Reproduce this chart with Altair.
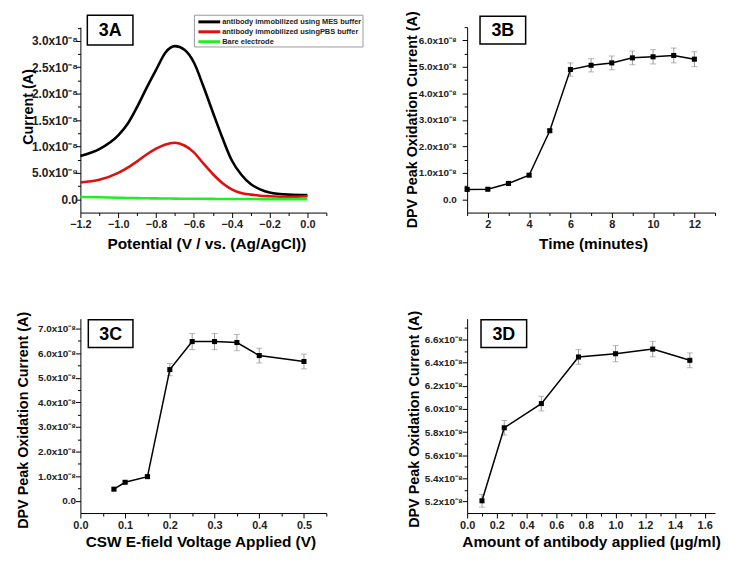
import altair as alt
import pandas as pd

FONT = "Liberation Sans"

# ---------------- Panel 3A (current in units of 1e-8 A) ----------------
potential = [-1.2, -1.1, -1.0, -0.95, -0.9, -0.85, -0.8, -0.75, -0.7, -0.65, -0.6,
             -0.55, -0.5, -0.45, -0.4, -0.35, -0.3, -0.25, -0.2, -0.1, 0.0]
mes_current = [0.82, 0.95, 1.21, 1.43, 1.75, 2.11, 2.45, 2.78, 2.90, 2.83, 2.59,
               2.14, 1.65, 1.17, 0.74, 0.47, 0.29, 0.19, 0.13, 0.09, 0.08]
pbs_current = [0.32, 0.37, 0.50, 0.60, 0.72, 0.85, 0.96, 1.04, 1.07, 1.02, 0.89,
               0.68, 0.48, 0.31, 0.19, 0.12, 0.09, 0.07, 0.06, 0.05, 0.06]
bare_current = [0.045, 0.040, 0.030, 0.027, 0.024, 0.021, 0.018, 0.016, 0.014, 0.012, 0.011,
                0.010, 0.009, 0.008, 0.007, 0.006, 0.006, 0.005, 0.005, 0.004, 0.004]
series_names = ["antibody immobilized using MES buffer",
                "antibody immobilized usingPBS buffer",
                "Bare electrode"]
series_colors = ["#000000", "#e01010", "#22ee22"]

# ---------------- Panel 3B ----------------
time_min = [1, 2, 3, 4, 5, 6, 7, 8, 9, 10, 11, 12]
b_current = [0.375, 0.38, 0.60, 0.91, 2.59, 4.90, 5.06, 5.15, 5.34, 5.38, 5.43, 5.29]
b_err = [0.05, 0.05, 0.05, 0.05, 0.05, 0.25, 0.25, 0.26, 0.26, 0.27, 0.28, 0.28]

# ---------------- Panel 3C ----------------
voltage = [0.075, 0.1, 0.15, 0.2, 0.25, 0.3, 0.35, 0.4, 0.5]
c_current = [0.47, 0.75, 0.98, 5.33, 6.47, 6.47, 6.43, 5.90, 5.66]
c_err = [0.05, 0.05, 0.05, 0.25, 0.33, 0.33, 0.33, 0.30, 0.30]

# ---------------- Panel 3D ----------------
antibody = [0.1, 0.25, 0.5, 0.75, 1.0, 1.25, 1.5]
d_current = [5.206, 5.837, 6.046, 6.449, 6.477, 6.517, 6.42]
d_err = [0.055, 0.063, 0.063, 0.063, 0.07, 0.067, 0.064]

panel_labels = ["3A", "3B", "3C", "3D"]

SUP8 = "x10\u207b\u2078"
SUP9 = "x10\u207b\u2079"
Y_LABEL = f"datum.value == 0 ? '0.0' : format(datum.value, '.1f') + '{SUP8}'"
Y_LABEL_A = (f"datum.value == 0 ? '0.0' : (datum.value < 0.9 ? format(datum.value*10, '.1f') + '{SUP9}'"
             f" : format(datum.value, '.1f') + '{SUP8}')")


def major_axis(orient, values, title, tx, ty, fmt=None, label_expr=None,
               label_size=11, label_pad=1):
    kw = dict(orient=orient, values=values, title=title, grid=False,
              tickSize=5, tickColor="black", tickWidth=1,
              domainColor="black", domainWidth=1,
              labelFont=FONT, labelFontWeight="bold", labelFontSize=label_size,
              labelColor="#222222", labelPadding=label_pad,
              labelFlush=False, labelOverlap=False,
              titleFont=FONT, titleFontWeight="bold",
              titleFontSize=15.5 if orient == "bottom" else 14.5, titleColor="black",
              titleX=tx, titleY=ty, titleBaseline="alphabetic")
    if fmt is not None:
        kw["format"] = fmt
    if label_expr is not None:
        kw["labelExpr"] = label_expr
    return alt.Axis(**kw)


def minor_axis(orient, values):
    return alt.Axis(orient=orient, values=values, labels=False, domain=False, title=None,
                    grid=False, tickSize=3, tickColor="black", tickWidth=1)


def minor_layer(df, xf, yf, xs, ys, xminor, yminor):
    return alt.Chart(df).mark_point(opacity=0).encode(
        x=alt.X(xf, scale=xs, axis=minor_axis("bottom", xminor)),
        y=alt.Y(yf, scale=ys, axis=minor_axis("left", yminor)),
    )


def label_box(label, x0, x1, y0, y1):
    d = pd.DataFrame({"label": [label]})
    rect = alt.Chart(d).mark_rect(fill="white", stroke="black", strokeWidth=1.5).encode(
        x=alt.value(x0), x2=alt.value(x1), y=alt.value(y0), y2=alt.value(y1))
    txt = alt.Chart(d).mark_text(font=FONT, fontSize=18, fontWeight=900, color="black",
                                 align="center", baseline="middle").encode(
        x=alt.value((x0 + x1) / 2), y=alt.value((y0 + y1) / 2 + 1), text="label:N")
    return rect + txt


def legend_layers(x0, x1, y0, y1, sx0, sx1, tx, rows_y):
    layers = [alt.Chart(pd.DataFrame({"s": ["box"]})).mark_rect(
        fill="white", stroke="#9a9a9a", strokeWidth=1).encode(
        x=alt.value(x0), x2=alt.value(x1), y=alt.value(y0), y2=alt.value(y1))]
    for name, col, ry in zip(series_names, series_colors, rows_y):
        d = pd.DataFrame({"s": [name]})
        layers.append(alt.Chart(d).mark_rule(color=col, strokeWidth=3).encode(
            x=alt.value(sx0), x2=alt.value(sx1), y=alt.value(ry)))
        layers.append(alt.Chart(d).mark_text(
            font=FONT, fontSize=7.5, fontWeight="bold", color="#222222",
            align="left", baseline="middle").encode(
            x=alt.value(tx), y=alt.value(ry), text="s:N"))
    return alt.layer(*layers)


def error_panel(df, xf, xs, ys, xaxis, yaxis, xminor, yminor, box, w, h):
    base = alt.Chart(df)
    minor = minor_layer(df, xf, "cur:Q", xs, ys, xminor, yminor)
    rules = base.mark_rule(color="#999999", strokeWidth=1).encode(
        x=alt.X(xf, scale=xs, axis=None), y=alt.Y("lo:Q", scale=ys, axis=None), y2="hi:Q")
    cap_lo = base.mark_tick(color="#999999", orient="horizontal", size=6, thickness=1).encode(
        x=alt.X(xf, scale=xs, axis=None), y=alt.Y("lo:Q", scale=ys, axis=None))
    cap_hi = base.mark_tick(color="#999999", orient="horizontal", size=6, thickness=1).encode(
        x=alt.X(xf, scale=xs, axis=None), y=alt.Y("hi:Q", scale=ys, axis=None))
    line = base.mark_line(color="black", strokeWidth=1.5).encode(
        x=alt.X(xf, scale=xs, axis=xaxis), y=alt.Y("cur:Q", scale=ys, axis=yaxis))
    pts = base.mark_square(color="black", size=26, opacity=1).encode(
        x=alt.X(xf, scale=xs, axis=None), y=alt.Y("cur:Q", scale=ys, axis=None))
    return alt.layer(minor, rules, cap_lo, cap_hi, line, pts, box).resolve_axis(
        x="independent", y="independent").properties(width=w, height=h)


W1, W2 = 248, 250
H1, H2 = 187, 196

# ---- A ----
rows = []
for name, vals in zip(series_names, [mes_current, pbs_current, bare_current]):
    for p, v in zip(potential, vals):
        rows.append({"potential": p, "cur": v, "series": name})
dfA = pd.DataFrame(rows)
xsA = alt.Scale(domain=[-1.2, 0.1], nice=False, zero=False)
ysA = alt.Scale(domain=[-0.25, 3.26], nice=False, zero=False)
lineA = alt.Chart(dfA).mark_line(strokeWidth=2.6, interpolate="monotone").encode(
    x=alt.X("potential:Q", scale=xsA,
            axis=major_axis("bottom", [-1.2, -1.0, -0.8, -0.6, -0.4, -0.2, 0.0],
                            "Potential (V / vs. (Ag/AgCl))", 127, 36, fmt=".1f",
                            label_size=11, label_pad=1)),
    y=alt.Y("cur:Q", scale=ysA,
            axis=major_axis("left", [0, 0.5, 1.0, 1.5, 2.0, 2.5, 3.0], "Current (A)", -48, 80,
                            label_expr=Y_LABEL_A, label_size=12, label_pad=-2)),
    color=alt.Color("series:N", scale=alt.Scale(domain=series_names, range=series_colors),
                    legend=None),
    order=alt.Order("series:N", sort="descending"),
)
minorA = minor_layer(dfA, "potential:Q", "cur:Q", xsA, ysA,
                     [-1.1, -0.9, -0.7, -0.5, -0.3, -0.1, 0.1],
                     [0.25, 0.75, 1.25, 1.75, 2.25, 2.75, 3.25])
legA = legend_layers(115, 285, -12, 20, 119, 141, 143, [-5.3, 4.7, 14.7])
panelA = alt.layer(minorA, lineA, legA, label_box(panel_labels[0], 7, 53, -12, 18)).resolve_axis(
    x="independent", y="independent").properties(width=W1, height=H1)

# ---- B ----
dfB = pd.DataFrame({"time": time_min, "cur": b_current, "err": b_err})
dfB["lo"] = dfB["cur"] - dfB["err"]
dfB["hi"] = dfB["cur"] + dfB["err"]
xsB = alt.Scale(domain=[1, 13], nice=False, zero=False)
ysB = alt.Scale(domain=[-0.5, 6.5], nice=False, zero=False)
panelB = error_panel(
    dfB, "time:Q", xsB, ysB,
    major_axis("bottom", [2, 4, 6, 8, 10, 12], "Time (minutes)", 127, 36, fmt="d",
               label_size=11, label_pad=1),
    major_axis("left", [0, 1, 2, 3, 4, 5, 6], "DPV Peak Oxidation Current (A)", -51, 93,
               label_expr=Y_LABEL, label_size=10, label_pad=6),
    [1, 3, 5, 7, 9, 11, 13], [0.5, 1.5, 2.5, 3.5, 4.5, 5.5, 6.5],
    label_box(panel_labels[1], 13, 59, -11, 17), W2, H1)

# ---- C ----
dfC = pd.DataFrame({"volt": voltage, "cur": c_current, "err": c_err})
dfC["lo"] = dfC["cur"] - dfC["err"]
dfC["hi"] = dfC["cur"] + dfC["err"]
xsC = alt.Scale(domain=[0, 0.55], nice=False, zero=False)
ysC = alt.Scale(domain=[-0.5, 7.4], nice=False, zero=False)
panelC = error_panel(
    dfC, "volt:Q", xsC, ysC,
    major_axis("bottom", [0, 0.1, 0.2, 0.3, 0.4, 0.5], "CSW E-field Voltage Applied (V)", 121, 34,
               fmt=".1f", label_size=11, label_pad=2),
    major_axis("left", [0, 1, 2, 3, 4, 5, 6, 7], "DPV Peak Oxidation Current (A)", -53, 102,
               label_expr=Y_LABEL, label_size=10, label_pad=0),
    [0.05, 0.15, 0.25, 0.35, 0.45, 0.55], [0.5, 1.5, 2.5, 3.5, 4.5, 5.5, 6.5],
    label_box(panel_labels[2], 8, 53, 1, 29), W1, H2)

# ---- D ----
dfD = pd.DataFrame({"amt": antibody, "cur": d_current, "err": d_err})
dfD["lo"] = dfD["cur"] - dfD["err"]
dfD["hi"] = dfD["cur"] + dfD["err"]
xsD = alt.Scale(domain=[0, 1.67], nice=False, zero=False)
ysD = alt.Scale(domain=[5.1, 6.78], nice=False, zero=False)
panelD = error_panel(
    dfD, "amt:Q", xsD, ysD,
    major_axis("bottom", [0, 0.2, 0.4, 0.6, 0.8, 1.0, 1.2, 1.4, 1.6],
               "Amount of antibody applied (\u03bcg/ml)", 125, 34, fmt=".1f",
               label_size=11, label_pad=2),
    major_axis("left", [5.2, 5.4, 5.6, 5.8, 6.0, 6.2, 6.4, 6.6], "DPV Peak Oxidation Current (A)",
               -49, 101, label_expr=Y_LABEL, label_size=10, label_pad=0),
    [0.1, 0.3, 0.5, 0.7, 0.9, 1.1, 1.3, 1.5], [5.3, 5.5, 5.7, 5.9, 6.1, 6.3, 6.5, 6.7],
    label_box(panel_labels[3], 14, 60, 1, 29), W2, H2)

chart = alt.concat(panelA, panelB, panelC, panelD, columns=2,
                   spacing={"row": 107, "column": 142}, bounds="flush").properties(
    background="white",
    padding={"left": 7, "top": 0, "right": 0, "bottom": 0},
).configure_view(stroke=None)

chart.save("out.html", embed_options={"renderer": "svg", "actions": False})
